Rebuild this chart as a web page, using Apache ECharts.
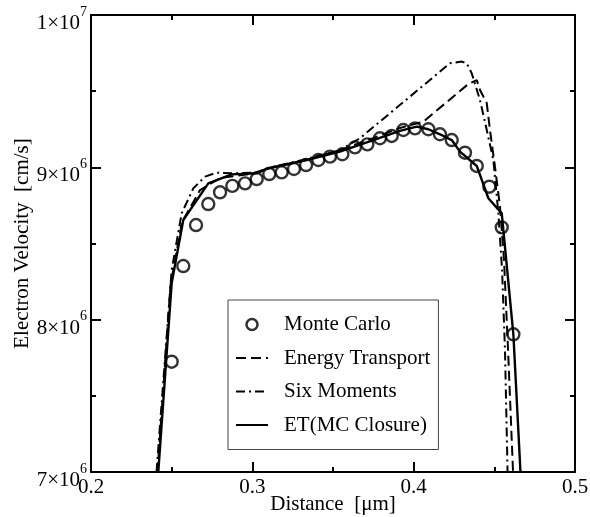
<!DOCTYPE html>
<html>
<head>
<meta charset="utf-8">
<script src="https://cdn.jsdelivr.net/npm/echarts@6/dist/echarts.min.js"></script>
<style>
html,body{margin:0;padding:0;background:#fff;}
#chart{width:590px;height:517px;}
</style>
</head>
<body>
<div id="chart"></div>
<script>
// Distance in µm, velocity in units of 10^6 cm/s
var mcX = [0.2500,0.2572,0.2651,0.2727,0.2800,0.2876,0.2955,0.3027,0.3105,0.3182,0.3258,0.3333,0.3409,0.3481,0.3558,0.3636,0.3713,0.3791,0.3864,0.3936,0.4008,0.4091,0.4163,0.4236,0.4318,0.4391,0.4469,0.4546,0.4618];
var mcY = [7.724,8.352,8.621,8.759,8.836,8.878,8.895,8.923,8.956,8.967,8.989,9.015,9.048,9.070,9.086,9.131,9.151,9.191,9.206,9.245,9.256,9.250,9.217,9.179,9.096,9.009,8.873,8.606,7.904];

var etX = [0.2412,0.2493,0.2564,0.2676,0.2800,0.2986,0.3110,0.3333,0.3543,0.3748,0.3915,0.4060,0.4339,0.4391,0.4411,0.4453,0.4473,0.4504,0.4535,0.4560,0.4585,0.4616];
var etY = [7.0,8.228,8.641,8.851,8.930,8.956,8.995,9.048,9.113,9.192,9.258,9.300,9.547,9.573,9.508,9.422,9.245,9.004,8.742,8.392,7.801,7.0];

var sixX = [0.2406,0.2500,0.2562,0.2634,0.2707,0.2779,0.2872,0.3027,0.3099,0.3337,0.3543,0.3667,0.4225,0.4298,0.4329,0.4360,0.4411,0.4453,0.4494,0.4525,0.4548,0.4566,0.4582];
var sixY = [7.0,8.326,8.698,8.862,8.939,8.965,8.961,8.966,8.996,9.055,9.113,9.191,9.683,9.694,9.683,9.617,9.442,9.245,9.048,8.698,8.326,7.801,7.0];

var solX = [0.2417,0.2500,0.2572,0.2727,0.2872,0.3027,0.3099,0.3337,0.3543,0.3750,0.3915,0.4019,0.4091,0.4163,0.4236,0.4287,0.4391,0.4463,0.4546,0.4618,0.4662];
var solY = [7.0,8.239,8.654,8.895,8.954,8.961,8.994,9.048,9.103,9.179,9.239,9.267,9.250,9.217,9.179,9.103,9.009,8.797,8.698,7.904,7.0];

var seriesNames = ['Monte Carlo','Energy Transport','Six Moments','ET(MC Closure)'];

var xTickValues = [0.2,0.3,0.4,0.5];
var xTickLabels = ['0.2','0.3','0.4','0.5'];
var yTickValues = [7,8,9,10];
var yTickBase = ['7×10','8×10','9×10','1×10'];
var yTickExp = ['6','6','6','7'];

function pairs(xs, ys){ var out=[]; for(var i=0;i<xs.length;i++){ out.push([xs[i], ys[i]]); } return out; }

var FONT = 'Liberation Serif';
var chart = echarts.init(document.getElementById('chart'), null, {renderer:'canvas'});

var axisLineStyle = {color:'#000', width:2};
var hiddenSym = {opacity:0};
var option = {
  backgroundColor:'#fff',
  animation:false,
  grid:{left:91, right:15, top:15, bottom:45, containLabel:false, outerBoundsMode:'none'},
  legend:{
    orient:'vertical',
    left:228, top:300,
    padding:[14,8,14,7],
    itemGap:12.5,
    itemWidth:32, itemHeight:11,
    borderColor:'#444', borderWidth:1,
    backgroundColor:'#fff',
    textStyle:{fontFamily:FONT, fontSize:21, color:'#000', lineHeight:20, padding:[0,0,0,11]},
    data:[
      {name:seriesNames[0], itemStyle:{borderWidth:2.5, borderColor:'#000', color:'rgba(0,0,0,0)'}},
      {name:seriesNames[1], itemStyle:hiddenSym},
      {name:seriesNames[2], itemStyle:hiddenSym},
      {name:seriesNames[3], itemStyle:hiddenSym}
    ]
  },
  xAxis:[{
    type:'value', min:0.2, max:0.5, interval:0.1, position:'bottom',
    name:'Distance  [μm]', nameLocation:'middle', nameGap:22, nameMoveOverlap:false,
    nameTextStyle:{fontFamily:FONT, fontSize:21, color:'#000'},
    axisLine:{show:true, onZero:false, lineStyle:axisLineStyle},
    axisTick:{show:true, inside:true, length:10, lineStyle:{color:'#000', width:2}},
    minorTick:{show:true, splitNumber:2, length:5, lineStyle:{color:'#000', width:2}},
    splitLine:{show:false},
    axisLabel:{margin:5, fontFamily:FONT, fontSize:21, color:'#000',
      formatter:function(v){ for(var i=0;i<xTickValues.length;i++){ if(Math.abs(v-xTickValues[i])<1e-9) return xTickLabels[i]; } return ''; }}
  },{
    type:'value', min:0.2, max:0.5, interval:0.1, position:'top',
    axisLine:{show:true, onZero:false, lineStyle:axisLineStyle},
    axisTick:{show:true, inside:true, length:10, lineStyle:{color:'#000', width:2}},
    minorTick:{show:true, splitNumber:2, length:5, lineStyle:{color:'#000', width:2}},
    splitLine:{show:false}, axisLabel:{show:false}
  }],
  yAxis:[{
    type:'value', min:7, max:10, interval:1, position:'left',
    name:'Electron Velocity  [cm/s]', nameLocation:'middle', nameGap:58, nameRotate:90, nameMoveOverlap:false,
    nameTextStyle:{fontFamily:FONT, fontSize:21, color:'#000'},
    axisLine:{show:true, onZero:false, lineStyle:axisLineStyle},
    axisTick:{show:true, inside:true, length:10, lineStyle:{color:'#000', width:2}},
    minorTick:{show:true, splitNumber:2, length:5, lineStyle:{color:'#000', width:2}},
    splitLine:{show:false},
    axisLabel:{margin:4, color:'#000',
      formatter:function(v){ for(var i=0;i<yTickValues.length;i++){ if(Math.abs(v-yTickValues[i])<1e-9) return '{t|\u200b}\n{p|\u200b}{b|'+yTickBase[i]+'}{s|'+yTickExp[i]+'}'; } return ''; },
      rich:{
        t:{fontFamily:FONT, fontSize:8, lineHeight:9, verticalAlign:'middle'},
        p:{fontFamily:FONT, fontSize:20, lineHeight:29, verticalAlign:'middle'},
        b:{fontFamily:FONT, fontSize:21, color:'#000', lineHeight:20, verticalAlign:'bottom'},
        s:{fontFamily:FONT, fontSize:14, color:'#000', lineHeight:20, verticalAlign:'top'}
      }}
  },{
    type:'value', min:7, max:10, interval:1, position:'right',
    axisLine:{show:true, onZero:false, lineStyle:axisLineStyle},
    axisTick:{show:true, inside:true, length:10, lineStyle:{color:'#000', width:2}},
    minorTick:{show:true, splitNumber:2, length:5, lineStyle:{color:'#000', width:2}},
    splitLine:{show:false}, axisLabel:{show:false}
  }],
  series:[
    {name:seriesNames[1], type:'line', xAxisIndex:0, yAxisIndex:0, data:pairs(etX,etY), symbol:'none',
      lineStyle:{color:'#000', width:2, type:[10,5]}, itemStyle:{color:'#000'}, z:2},
    {name:seriesNames[2], type:'line', xAxisIndex:0, yAxisIndex:0, data:pairs(sixX,sixY), symbol:'none',
      lineStyle:{color:'#000', width:2, type:[9,4,2,4]}, itemStyle:{color:'#000'}, z:2},
    {name:seriesNames[3], type:'line', xAxisIndex:0, yAxisIndex:0, data:pairs(solX,solY), symbol:'none',
      lineStyle:{color:'#000', width:2.4, type:'solid'}, itemStyle:{color:'#000'}, z:3},
    {name:seriesNames[0], type:'scatter', xAxisIndex:0, yAxisIndex:0, data:pairs(mcX,mcY), symbol:'circle', symbolSize:12,
      itemStyle:{color:'rgba(0,0,0,0)', borderColor:'#000', borderWidth:2.4}, z:4}
  ]
};
chart.setOption(option);
</script>
</body>
</html>
